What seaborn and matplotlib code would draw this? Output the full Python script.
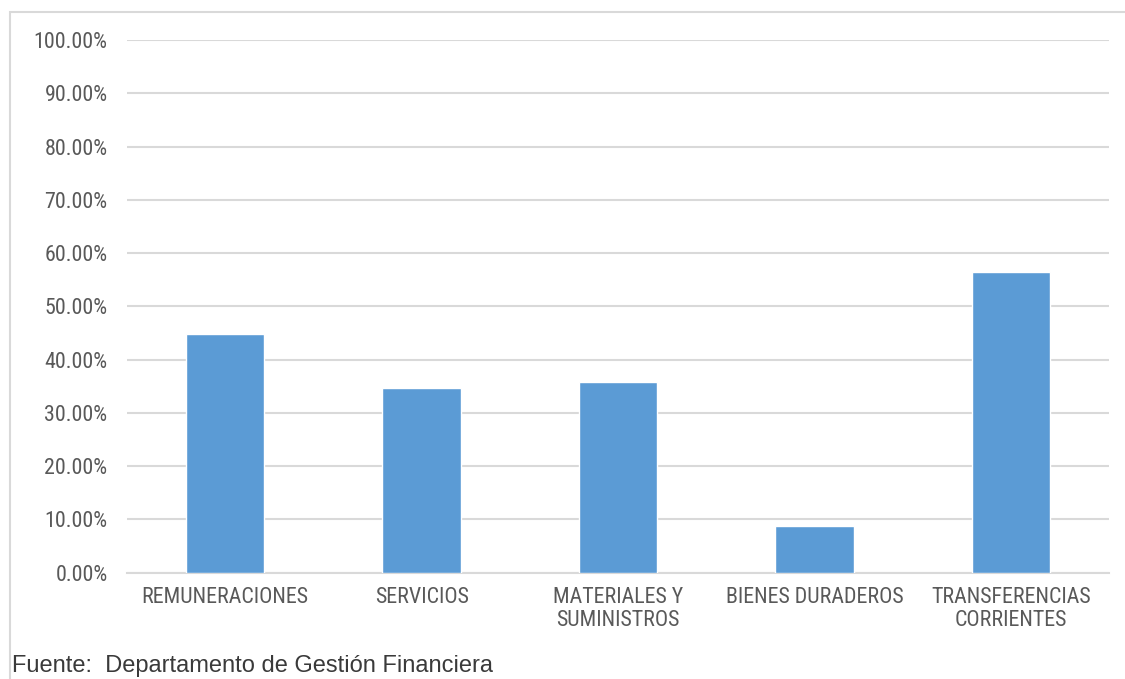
import matplotlib
matplotlib.use("Agg")
import matplotlib.pyplot as plt
from matplotlib.patches import Rectangle
from matplotlib.ticker import FuncFormatter
import seaborn as sns
import pandas as pd

categories = ["REMUNERACIONES", "SERVICIOS", "MATERIALES Y\nSUMINISTROS",
              "BIENES DURADEROS", "TRANSFERENCIAS\nCORRIENTES"]
values = [44.9, 34.7, 35.8, 8.8, 56.5]
y_ticks = [0, 10, 20, 30, 40, 50, 60, 70, 80, 90, 100]
source_note = "Fuente:  Departamento de Gestión Financiera"

sns.set_style("white")
narrow = ["Roboto Condensed", "Liberation Sans", "DejaVu Sans"]
plt.rcParams["font.family"] = narrow

df = pd.DataFrame({"categoria": categories, "valor": values})

fig = plt.figure(figsize=(11.25, 6.79), dpi=100)
W, H = 1125, 679
left, right, top, bottom = 127, 1109, 40, 572.7
ax = fig.add_axes([left / W, 1 - bottom / H, (right - left) / W, (bottom - top) / H])

sns.barplot(data=df, x="categoria", y="valor", color="#5b9bd5", width=0.4,
            saturation=1, ax=ax, zorder=3)

ax.set_xlim(-0.5, len(categories) - 0.5)
ax.set_ylim(0, 100)
ax.set_yticks(y_ticks)
ax.yaxis.set_major_formatter(FuncFormatter(lambda v, p: f"{v:.2f}%"))
ax.grid(axis="y", color="#d9d9d9", linewidth=1.5, zorder=0)
ax.grid(axis="x", visible=False)
ax.set_xlabel("")
ax.set_ylabel("")
for s in ["top", "right", "left"]:
    ax.spines[s].set_visible(False)
ax.spines["bottom"].set_color("#d9d9d9")
ax.spines["bottom"].set_linewidth(1.5)
ax.tick_params(axis="both", length=0, labelsize=15.8, labelcolor="#595959")
ax.tick_params(axis="y", pad=14)
ax.tick_params(axis="x", pad=10)
for lbl in ax.get_xticklabels():
    lbl.set_linespacing(1.12)

# chart frame
fig.patches.append(Rectangle((10 / W, -0.05), 1.1, 1 - 12 / H + 0.05,
                             transform=fig.transFigure, fill=False,
                             edgecolor="#d9d9d9", linewidth=1.5))

fig.text(12 / W, 1 - 672 / H, source_note, fontsize=17, color="#3a3a3a",
         family=["Liberation Sans", "DejaVu Sans"], ha="left", va="baseline")

fig.savefig("out.png", dpi=100)
